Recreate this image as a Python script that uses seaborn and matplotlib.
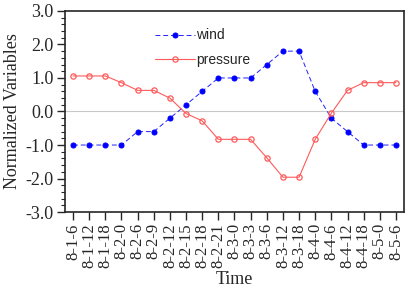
import matplotlib
matplotlib.use("Agg")
import matplotlib.pyplot as plt
from matplotlib.ticker import MultipleLocator
import pandas as pd
import seaborn as sns

times = ["8-1-6", "8-1-12", "8-1-18", "8-2-0", "8-2-6", "8-2-9", "8-2-12",
         "8-2-15", "8-2-18", "8-2-21", "8-3-0", "8-3-3", "8-3-6", "8-3-12",
         "8-3-18", "8-4-0", "8-4-6", "8-4-12", "8-4-18", "8-5-0", "8-5-6"]
wind = [-1.0, -1.0, -1.0, -1.0, -0.6, -0.6, -0.2, 0.2, 0.6, 1.0, 1.0, 1.0,
        1.4, 1.8, 1.8, 0.6, -0.2, -0.6, -1.0, -1.0, -1.0]
pressure = [1.06, 1.06, 1.06, 0.86, 0.63, 0.63, 0.40, -0.06, -0.28, -0.83,
            -0.83, -0.83, -1.38, -1.96, -1.96, -0.83, -0.05, 0.63, 0.86, 0.86, 0.86]

df = pd.DataFrame({"Time": times, "wind": wind, "pressure": pressure})

sns.set_style("ticks")
serif = ["Liberation Serif", "DejaVu Serif"]

fig = plt.figure(figsize=(4.11, 2.87), dpi=100)
ax = fig.add_axes([0.158, 0.261, 0.825, 0.701])

ax.axhline(0, color="#c8c8c8", lw=0.8, zorder=0)
sns.lineplot(data=df, x="Time", y="wind", ax=ax, sort=False, color="#2020ff",
             lw=0.7, linestyle=(0, (5, 3)), marker="o", markersize=3.6,
             markeredgecolor="#0000ff", markerfacecolor="#0000ff", label="wind")
sns.lineplot(data=df, x="Time", y="pressure", ax=ax, sort=False, color="#ff5a5a",
             lw=0.8, marker="o", markersize=3.8, markerfacecolor="none",
             markeredgecolor="#ff5a5a", markeredgewidth=0.9, label="pressure")

ax.set_xlim(-0.5, len(times) - 0.5)
ax.set_ylim(-3, 3)
ax.yaxis.set_minor_locator(MultipleLocator(0.2))
ax.set_yticks([-3, -2, -1, 0, 1, 2, 3])
ax.set_yticklabels(["-3.0", "-2.0", "-1.0", "0.0", "1.0", "2.0", "3.0"],
                   family=serif, fontsize=13)
ax.set_xticks(range(len(times)))
ax.set_xticklabels(times, rotation=90, family=serif, fontsize=12)
ax.tick_params(axis="both", which="major", length=6, width=1.0, direction="out", pad=2)
ax.tick_params(axis="y", which="minor", length=3, width=0.8, direction="out")
for s in ax.spines.values():
    s.set_linewidth(1.2)

ax.set_xlabel("Time", family=serif, fontsize=13, labelpad=2)
ax.set_ylabel("Normalized Variables", family=serif, fontsize=13, labelpad=3)

ax.legend(loc="upper left", bbox_to_anchor=(0.228, 0.975), frameon=False,
          handlelength=2.9, handletextpad=0.1, labelspacing=0.75,
          prop={"family": ["Liberation Sans", "DejaVu Sans"], "size": 10})

fig.savefig("out.png", dpi=100)
